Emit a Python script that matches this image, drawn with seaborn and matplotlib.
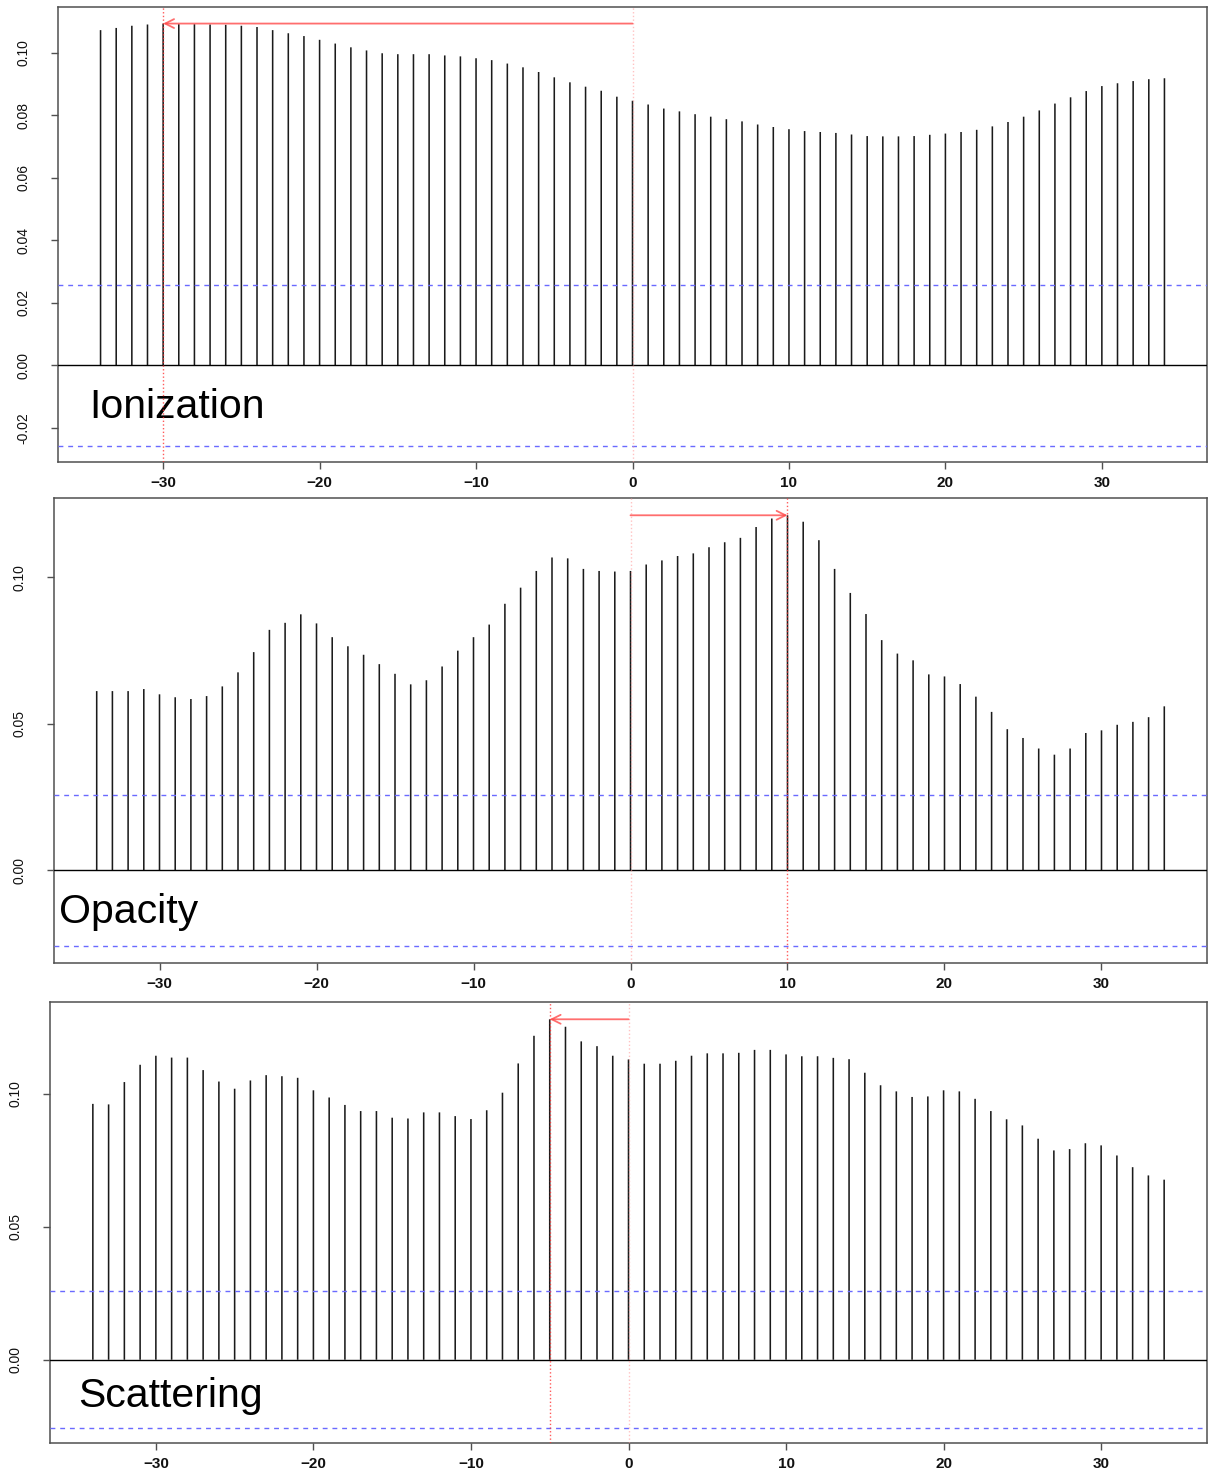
import numpy as np
import pandas as pd
import matplotlib
matplotlib.use("Agg")
import matplotlib.pyplot as plt
import seaborn as sns

# Cross-correlation lags shown on every panel
lags = list(range(-34, 35))

ionization = [
    0.1072, 0.1079, 0.1086, 0.1090, 0.1093, 0.1091, 0.1091, 0.1090, 0.1089, 0.1086,
    0.1082, 0.1072, 0.1062, 0.1053, 0.1041, 0.1029, 0.1017, 0.1007, 0.0998, 0.0995,
    0.0995, 0.0995, 0.0991, 0.0988, 0.0982, 0.0976, 0.0965, 0.0953, 0.0938, 0.0921,
    0.0905, 0.0891, 0.0878, 0.0859,
    0.0846, 0.0834, 0.0821, 0.0812, 0.0803, 0.0795, 0.0787, 0.0780, 0.0770, 0.0762,
    0.0755, 0.0749, 0.0746, 0.0743, 0.0738, 0.0733, 0.0732, 0.0732, 0.0733, 0.0737,
    0.0741, 0.0746, 0.0753, 0.0764, 0.0778, 0.0795, 0.0815, 0.0837, 0.0857, 0.0877,
    0.0893, 0.0902, 0.0909, 0.0915, 0.0918,
]

opacity = [
    0.0611, 0.0611, 0.0611, 0.0618, 0.0600, 0.0590, 0.0584, 0.0594, 0.0627, 0.0675,
    0.0744, 0.0820, 0.0844, 0.0873, 0.0842, 0.0795, 0.0764, 0.0735, 0.0703, 0.0670,
    0.0634, 0.0648, 0.0695, 0.0749, 0.0795, 0.0838, 0.0909, 0.0964, 0.1021, 0.1067,
    0.1064, 0.1028, 0.1021, 0.1019,
    0.1021, 0.1043, 0.1057, 0.1072, 0.1081, 0.1102, 0.1119, 0.1134, 0.1171, 0.1200,
    0.1211, 0.1189, 0.1126, 0.1028, 0.0946, 0.0874, 0.0785, 0.0739, 0.0716, 0.0668,
    0.0661, 0.0635, 0.0592, 0.0540, 0.0481, 0.0451, 0.0415, 0.0394, 0.0415, 0.0468,
    0.0477, 0.0496, 0.0506, 0.0522, 0.0559,
]

scattering = [
    0.0962, 0.0960, 0.1044, 0.1109, 0.1143, 0.1136, 0.1136, 0.1089, 0.1046, 0.1019,
    0.1050, 0.1070, 0.1066, 0.1060, 0.1013, 0.0986, 0.0958, 0.0935, 0.0935, 0.0910,
    0.0907, 0.0930, 0.0930, 0.0916, 0.0905, 0.0938, 0.1004, 0.1114, 0.1218, 0.1280,
    0.1252, 0.1197, 0.1179, 0.1143,
    0.1129, 0.1113, 0.1113, 0.1124, 0.1143, 0.1152, 0.1152, 0.1154, 0.1165, 0.1165,
    0.1148, 0.1141, 0.1141, 0.1135, 0.1130, 0.1079, 0.1032, 0.1009, 0.0988, 0.0990,
    0.1013, 0.1009, 0.0981, 0.0935, 0.0904, 0.0881, 0.0831, 0.0787, 0.0792, 0.0814,
    0.0806, 0.0768, 0.0724, 0.0693, 0.0677,
]

panel_names = ["Ionization", "Opacity", "Scattering"]
series = [ionization, opacity, scattering]
conf_bound = 0.0258

x_ticks = [-30, -20, -10, 0, 10, 20, 30]
x_tick_labels = ["\u221230", "\u221220", "\u221210", "0", "10", "20", "30"]
y_ticks = [
    [-0.02, 0.00, 0.02, 0.04, 0.06, 0.08, 0.10],
    [0.00, 0.05, 0.10],
    [0.00, 0.05, 0.10],
]
y_tick_labels = [
    ["-0.02", "0.00", "0.02", "0.04", "0.06", "0.08", "0.10"],
    ["0.00", "0.05", "0.10"],
    ["0.00", "0.05", "0.10"],
]

# Layout (figure fractions) and axis limits for the three stacked panels
W, H = 1208, 1476
boxes_px = [(58, 7, 1207, 462), (54, 498, 1207, 963), (50, 1002, 1207, 1443)]
ylims = [(-0.0310, 0.1146), (-0.0317, 0.1270), (-0.0313, 0.1345)]
label_pos = [(0.027, 0.097), (0.004, 0.087), (0.024, 0.081)]
xlim = (-36.72, 36.72)

sns.set_theme(style="white")
plt.rcParams["font.family"] = ["Liberation Sans", "DejaVu Sans"]

fig = plt.figure(figsize=(W / 100, H / 100), dpi=100)
fig.patch.set_facecolor("white")

frame_col = "#505050"

for i, (name, vals) in enumerate(zip(panel_names, series)):
    l, t, r, b = boxes_px[i]
    ax = fig.add_axes([l / W, 1 - b / H, (r - l) / W, (b - t) / H])
    ax.set_facecolor("white")

    df = pd.DataFrame({"lag": lags, "ccf": vals})
    sns.barplot(data=df, x="lag", y="ccf", native_scale=True, width=0.1,
                color="#1a1a1a", saturation=1, linewidth=0, errorbar=None, ax=ax)
    for p in ax.patches:
        p.set_snap(False)

    # zero line and confidence bounds
    ax.axhline(0, color="black", lw=1.0, zorder=3)
    for cb in (conf_bound, -conf_bound):
        ax.axhline(cb, color="#6a6aff", lw=1.0, ls=(0, (3.5, 3.5)), zorder=3)

    # lag of maximum correlation
    peak_idx = int(np.argmax(vals))
    peak_lag = lags[peak_idx]
    peak_val = vals[peak_idx]
    ax.axvline(0, color="#ff9a9a", lw=1.0, ls=":", alpha=0.6, zorder=4)
    ax.axvline(peak_lag, color="#ff3030", lw=1.0, ls=":", alpha=0.8, zorder=4)
    ax.annotate("", xy=(peak_lag, peak_val), xytext=(0, peak_val),
                arrowprops=dict(arrowstyle="->", color="#ff4a4a", lw=1.3, alpha=0.8,
                                mutation_scale=16, shrinkA=0, shrinkB=0),
                zorder=5)

    ax.text(label_pos[i][0], label_pos[i][1], name, transform=ax.transAxes,
            fontsize=29.5, color="black", ha="left", va="baseline")

    ax.set_xlim(*xlim)
    ax.set_ylim(*ylims[i])
    ax.set_xticks(x_ticks)
    ax.set_xticklabels(x_tick_labels)
    ax.set_yticks(y_ticks[i])
    ax.set_yticklabels(y_tick_labels[i], rotation=90, va="center")
    ax.set_xlabel("")
    ax.set_ylabel("")

    for sp in ax.spines.values():
        sp.set_visible(True)
        sp.set_color(frame_col)
        sp.set_linewidth(1.1)

    ax.tick_params(axis="both", which="major", direction="out", length=5,
                   width=1.0, color=frame_col, labelcolor="#111111",
                   bottom=True, left=True, top=False, right=False)
    ax.tick_params(axis="x", pad=5, labelsize=11)
    ax.tick_params(axis="y", pad=15, labelsize=10)
    for lab in ax.get_xticklabels():
        lab.set_fontweight("bold")
    ax.grid(False)

fig.savefig("out.png", dpi=100, facecolor="white")
